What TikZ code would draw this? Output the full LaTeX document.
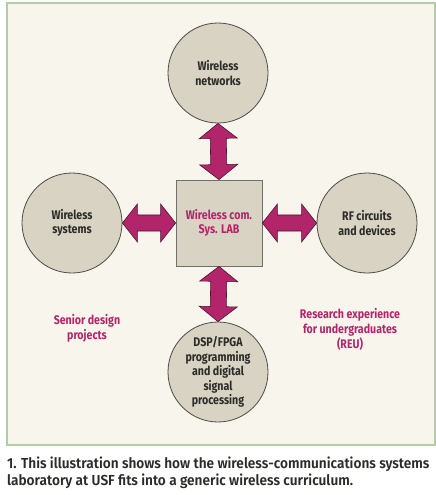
\documentclass[tikz,border=0pt]{standalone}
\usepackage{fontspec}
\setmainfont{Fira Sans}
\newfontfamily\diagfont{Fira Sans}[FakeStretch=0.85]
\newfontfamily\capfont{Fira Sans SemiBold}[FakeStretch=0.94]
\usetikzlibrary{calc}
\definecolor{Panel}{HTML}{F7F5EC}
\definecolor{PanelEdge}{HTML}{B3CDA5}
\definecolor{Stone}{HTML}{D9D3C3}
\definecolor{Ink}{HTML}{2B2B28}
\definecolor{Edge}{HTML}{4D4B45}
\definecolor{Magenta}{HTML}{B3256B}
\definecolor{DeepMagenta}{HTML}{4A1630}
\newcommand\fatarrow[2]{\draw[fatarrow] (#1) -- ($(#1)!24.2pt!51.7:(#2)$) -- ($(#1)!17pt!28.1:(#2)$) -- ($(#2)!17pt!-28.1:(#1)$) -- ($(#2)!24.2pt!-51.7:(#1)$) -- (#2) -- ($(#2)!24.2pt!51.7:(#1)$) -- ($(#2)!17pt!28.1:(#1)$) -- ($(#1)!17pt!-28.1:(#2)$) -- ($(#1)!24.2pt!-51.7:(#2)$) -- cycle;}

\begin{document}
\begin{tikzpicture}[x=1pt,y=-1pt,
  panel/.style={fill=Panel,draw=PanelEdge,line width=1.5pt},
  topic/.style={circle,draw=Edge,fill=Stone,line width=0.8pt,minimum size=100pt,inner sep=0pt,align=center,text=Ink,font=\diagfont\bfseries\fontsize{12.5}{14.5}\selectfont},
  hub/.style={rectangle,draw=Edge!80,fill=Stone,line width=0.8pt,minimum size=86pt,inner sep=0pt,align=center,text=Magenta,font=\diagfont\bfseries\fontsize{12.5}{14.5}\selectfont},
  note/.style={align=center,text=Magenta,font=\diagfont\bfseries\fontsize{12.5}{15}\selectfont},
  fatarrow/.style={fill=Magenta,draw=DeepMagenta,line width=0.6pt,line join=miter},
  caption/.style={align=left,inner sep=0pt,text=Ink,font=\capfont\fontsize{14.5}{17}\selectfont}
]
\useasboundingbox (0,0) rectangle (436,495);
\draw[panel] (7,3) rectangle (435,445);
\node[hub] (lab) at (219,223) {Wireless com.\\Sys. LAB};
\node[topic] (net) at (218,73) {Wireless\\networks};
\node[topic] (sys) at (72,223) {Wireless\\systems};
\node[topic] (rf) at (367,223) {RF circuits\\and devices};
\node[topic] (dsp) at (218,372) {DSP/FPGA\\programming\\and digital\\signal\\processing};
\fatarrow{net.south}{lab.north}
\fatarrow{sys.east}{lab.west}
\fatarrow{lab.east}{rf.west}
\fatarrow{lab.south}{dsp.north}
\node[note] (senior) at (87,328) {Senior design\\projects};
\node[note] (reu) at (350,329) {Research experience\\for undergraduates\\(REU)};
\node[caption,anchor=north west] (cap) at (7,457) {1. This illustration shows how the wireless-communications systems\\laboratory at USF fits into a generic wireless curriculum.};
\end{tikzpicture}
\end{document}
